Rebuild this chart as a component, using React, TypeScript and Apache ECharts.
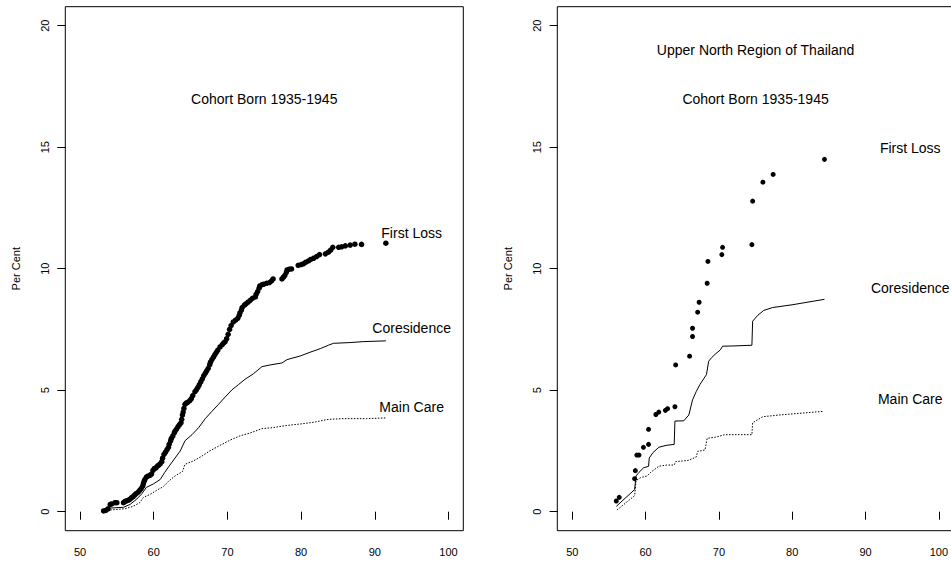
import React, { useEffect, useRef } from "react";
import * as echarts from "echarts";

// ---------- Left panel (all regions) ----------
const leftFirstLoss: [number, number][] = [
  [53.2, 0.03], [53.5, 0.05], [53.8, 0.12], [54.1, 0.3], [54.3, 0.32], [54.75, 0.37], [55.0, 0.37],
  [55.9, 0.37], [56.1, 0.42], [56.3, 0.45], [56.6, 0.48], [56.8, 0.52], [57.0, 0.58], [57.2, 0.62],
  [57.4, 0.68], [57.6, 0.74], [57.9, 0.81], [58.1, 0.88], [58.3, 0.95], [58.5, 1.05], [58.6, 1.15],
  [58.7, 1.25], [58.8, 1.32], [59.0, 1.42], [59.2, 1.46], [59.5, 1.5], [59.7, 1.55], [59.9, 1.7],
  [60.1, 1.78], [60.3, 1.8], [60.5, 1.88], [60.7, 1.92], [60.9, 1.98], [61.1, 2.06], [61.2, 2.2],
  [61.4, 2.36], [61.6, 2.45], [61.8, 2.55], [62.0, 2.65], [62.1, 2.78], [62.3, 2.92], [62.4, 3.02],
  [62.6, 3.12], [62.8, 3.25], [62.9, 3.32], [63.1, 3.4], [63.3, 3.5], [63.5, 3.58], [63.7, 3.66],
  [63.8, 3.8], [63.9, 3.98], [64.0, 4.1], [64.1, 4.25], [64.25, 4.42], [64.4, 4.47], [64.6, 4.5],
  [64.9, 4.57], [65.1, 4.65], [65.3, 4.78], [65.6, 4.94], [65.8, 5.02], [66.0, 5.12], [66.2, 5.23],
  [66.4, 5.35], [66.6, 5.47], [66.8, 5.6], [67.0, 5.7], [67.2, 5.8], [67.4, 5.9], [67.6, 6.05],
  [67.7, 6.15], [67.9, 6.26], [68.1, 6.36], [68.3, 6.46], [68.5, 6.56], [68.7, 6.65], [69.0, 6.78],
  [69.3, 6.88], [69.5, 6.95], [69.7, 7.0], [69.9, 7.12], [70.1, 7.3], [70.3, 7.5], [70.5, 7.66],
  [70.8, 7.81], [71.1, 7.88], [71.4, 7.96], [71.6, 8.08], [71.7, 8.18], [71.9, 8.3], [72.0, 8.4],
  [72.3, 8.5], [72.5, 8.55], [72.8, 8.62], [73.1, 8.7], [73.4, 8.78], [73.8, 8.84], [73.9, 8.95],
  [74.1, 9.06], [74.3, 9.2], [74.4, 9.29], [74.7, 9.34], [74.9, 9.36], [75.3, 9.4], [75.7, 9.43],
  [76.0, 9.5], [76.2, 9.58], [77.4, 9.58], [77.6, 9.65], [77.8, 9.73], [78.0, 9.85], [78.1, 9.95],
  [78.4, 9.98], [78.7, 9.99], [79.6, 10.14], [80.0, 10.17], [80.3, 10.2], [80.6, 10.26], [81.0, 10.32],
  [81.3, 10.38], [81.7, 10.43], [82.1, 10.5], [82.5, 10.58], [83.3, 10.61], [83.7, 10.68], [84.0, 10.76],
  [84.3, 10.88], [85.1, 10.88], [85.5, 10.9], [86.0, 10.94], [86.65, 10.97], [87.3, 11.01], [88.2, 11.0],
  [91.5, 11.05],
];

const leftCoresidence: [number, number][] = [
  [54.1, 0.15], [55.9, 0.18], [56.8, 0.3], [57.7, 0.52], [58.4, 0.74], [59.0, 1.0], [60.0, 1.15],
  [60.9, 1.33], [61.5, 1.62], [62.2, 1.92], [62.9, 2.21], [63.6, 2.5], [64.25, 2.92], [65.2, 3.17],
  [66.1, 3.46], [67.0, 3.83], [67.9, 4.13], [68.8, 4.42], [69.7, 4.72], [70.6, 5.01], [71.5, 5.23],
  [72.4, 5.45], [73.5, 5.67], [74.7, 5.97], [75.8, 6.04], [77.4, 6.12], [78.1, 6.26], [79.9, 6.41],
  [81.2, 6.56], [82.6, 6.71], [83.7, 6.85], [84.4, 6.93], [86.65, 6.96], [88.5, 7.0], [91.5, 7.03],
];

const leftMainCare: [number, number][] = [
  [54.1, 0.07], [56.1, 0.12], [57.2, 0.22], [58.1, 0.37], [58.6, 0.59], [59.5, 0.71], [60.4, 0.88],
  [61.3, 1.03], [62.0, 1.25], [62.9, 1.47], [63.9, 1.65], [64.25, 1.95], [65.4, 2.09], [66.5, 2.28],
  [67.6, 2.5], [69.0, 2.73], [70.4, 2.95], [71.7, 3.12], [73.1, 3.24], [74.7, 3.42], [76.2, 3.46],
  [77.8, 3.54], [79.9, 3.61], [81.7, 3.68], [83.7, 3.8], [85.7, 3.83], [88.9, 3.83], [91.5, 3.86],
];

const leftLabels: [number, number, string][] = [
  [75, 17, "Cohort Born 1935-1945"],
  [95, 11.47, "First Loss"],
  [95, 7.55, "Coresidence"],
  [95, 4.3, "Main Care"],
];

// ---------- Right panel (Upper North Region) ----------
const rightFirstLoss: [number, number][] = [
  [56.0, 0.44], [56.4, 0.59], [58.5, 1.36], [58.6, 1.69], [58.8, 2.33], [59.1, 2.33], [59.7, 2.65],
  [60.4, 2.77], [60.4, 3.39], [61.4, 4.0], [61.8, 4.1], [62.7, 4.17], [63.0, 4.24], [64.0, 4.32],
  [64.1, 6.04], [66.0, 6.4], [66.4, 7.21], [66.4, 7.55], [67.1, 8.21], [67.3, 8.62], [68.4, 9.4],
  [68.5, 10.3], [70.4, 10.58], [70.5, 10.88], [74.5, 10.99], [74.6, 12.78], [76.0, 13.56],
  [77.4, 13.88], [84.4, 14.5],
];

const rightCoresidence: [number, number][] = [
  [56.0, 0.22], [58.5, 0.91], [58.7, 1.47], [59.1, 1.62], [59.7, 1.8], [60.4, 1.87], [60.5, 2.21],
  [61.0, 2.43], [61.8, 2.65], [62.8, 2.73], [63.9, 2.77], [64.0, 3.73], [65.2, 3.74], [65.9, 3.98],
  [66.4, 4.6], [66.9, 4.94], [67.4, 5.23], [68.3, 5.64], [68.6, 6.19], [69.0, 6.34], [69.6, 6.51],
  [70.2, 6.66], [70.5, 6.81], [71.9, 6.82], [74.5, 6.85], [74.6, 7.84], [75.3, 8.08], [76.1, 8.28],
  [77.3, 8.4], [80.1, 8.52], [84.4, 8.74],
];

const rightMainCare: [number, number][] = [
  [56.1, 0.07], [58.5, 0.66], [58.7, 1.28], [59.3, 1.4], [60.2, 1.47], [60.7, 1.62], [61.8, 1.87],
  [62.9, 1.92], [63.9, 1.92], [64.1, 2.06], [65.8, 2.11], [66.9, 2.25], [67.1, 2.48], [68.1, 2.54],
  [68.4, 3.02], [69.6, 3.07], [70.8, 3.17], [74.5, 3.17], [74.6, 3.66], [76.0, 3.91], [78.3, 3.98],
  [81.0, 4.05], [84.3, 4.13],
];

const rightLabels: [number, number, string][] = [
  [75, 19, "Upper North Region of Thailand"],
  [75, 17, "Cohort Born 1935-1945"],
  [96.1, 14.96, "First Loss"],
  [96.1, 9.2, "Coresidence"],
  [96.1, 4.64, "Main Care"],
];

const xMin = 50;
const xMax = 100;
const xStep = 10;
const yMin = 0;
const yMax = 20;
const yStep = 5;
const yTitle = "Per Cent";

const FONT = "'Liberation Sans', Arial, Helvetica, sans-serif";

function makeX(gridIndex: number) {
  return {
    type: "value",
    gridIndex,
    min: xMin,
    max: xMax,
    interval: xStep,
    offset: 19,
    axisLine: { show: false },
    axisTick: { show: true, length: 8, lineStyle: { color: "#000", width: 1 } },
    axisLabel: { fontSize: 11, color: "#000", fontFamily: FONT, margin: 16 },
    splitLine: { show: false },
  };
}

function makeY(gridIndex: number) {
  return {
    type: "value",
    gridIndex,
    min: yMin,
    max: yMax,
    interval: yStep,
    offset: 14.7,
    name: yTitle,
    nameLocation: "middle",
    nameRotate: 90,
    nameGap: 44,
    nameTextStyle: { fontSize: 11, color: "#000", fontFamily: FONT },
    axisLine: { show: false },
    axisTick: { show: true, length: 8, lineStyle: { color: "#000", width: 1 } },
    axisLabel: { fontSize: 11, color: "#000", fontFamily: FONT, margin: 15, rotate: 90 },
    splitLine: { show: false },
  };
}

function panelSeries(
  idx: number,
  fl: [number, number][],
  co: [number, number][],
  mc: [number, number][],
  labels: [number, number, string][],
  dot: number
) {
  return [
    {
      type: "scatter",
      xAxisIndex: idx,
      yAxisIndex: idx,
      data: fl,
      symbol: "circle",
      symbolSize: dot,
      itemStyle: { color: "#000", opacity: 1 },
      silent: true,
    },
    {
      type: "line",
      xAxisIndex: idx,
      yAxisIndex: idx,
      data: co,
      symbol: "none",
      lineStyle: { color: "#000", width: 1 },
      silent: true,
    },
    {
      type: "line",
      xAxisIndex: idx,
      yAxisIndex: idx,
      data: mc,
      symbol: "none",
      lineStyle: { color: "#000", width: 1, type: [1.5, 1.5] },
      silent: true,
    },
    {
      type: "scatter",
      xAxisIndex: idx,
      yAxisIndex: idx,
      data: labels,
      symbolSize: 0,
      silent: true,
      itemStyle: { opacity: 1 },
      label: {
        show: true,
        position: "inside",
        formatter: (p: any) => p.data[2],
        fontSize: 14,
        color: "#000",
        fontFamily: FONT,
        align: "center",
        verticalAlign: "middle",
      },
    },
  ];
}

export default function App() {
  const ref = useRef<HTMLDivElement>(null);
  useEffect(() => {
    if (!ref.current) return;
    const chart = echarts.init(ref.current, undefined, { renderer: "svg" });
    chart.setOption({
      animation: false,
      backgroundColor: "#fff",
      grid: [
        { left: 80, top: 25.7, width: 368.5, height: 486 },
        { left: 572.3, top: 25.7, width: 368.5, height: 486 },
      ],
      xAxis: [makeX(0), makeX(1)],
      yAxis: [makeY(0), makeY(1)],
      graphic: [
        {
          type: "rect",
          shape: { x: 65.3, y: 6.7, width: 398, height: 524 },
          style: { fill: "none", stroke: "#000", lineWidth: 1 },
          silent: true,
        },
        {
          type: "rect",
          shape: { x: 557.3, y: 6.7, width: 398, height: 524 },
          style: { fill: "none", stroke: "#000", lineWidth: 1 },
          silent: true,
        },
      ],
      series: [
        ...panelSeries(0, leftFirstLoss, leftCoresidence, leftMainCare, leftLabels, 5.5),
        ...panelSeries(1, rightFirstLoss, rightCoresidence, rightMainCare, rightLabels, 5),
      ],
    });
    return () => chart.dispose();
  }, []);
  return (
    <div
      ref={ref}
      style={{ position: "fixed", left: 0, top: 0, width: 951, height: 561, background: "#fff" }}
    />
  );
}
